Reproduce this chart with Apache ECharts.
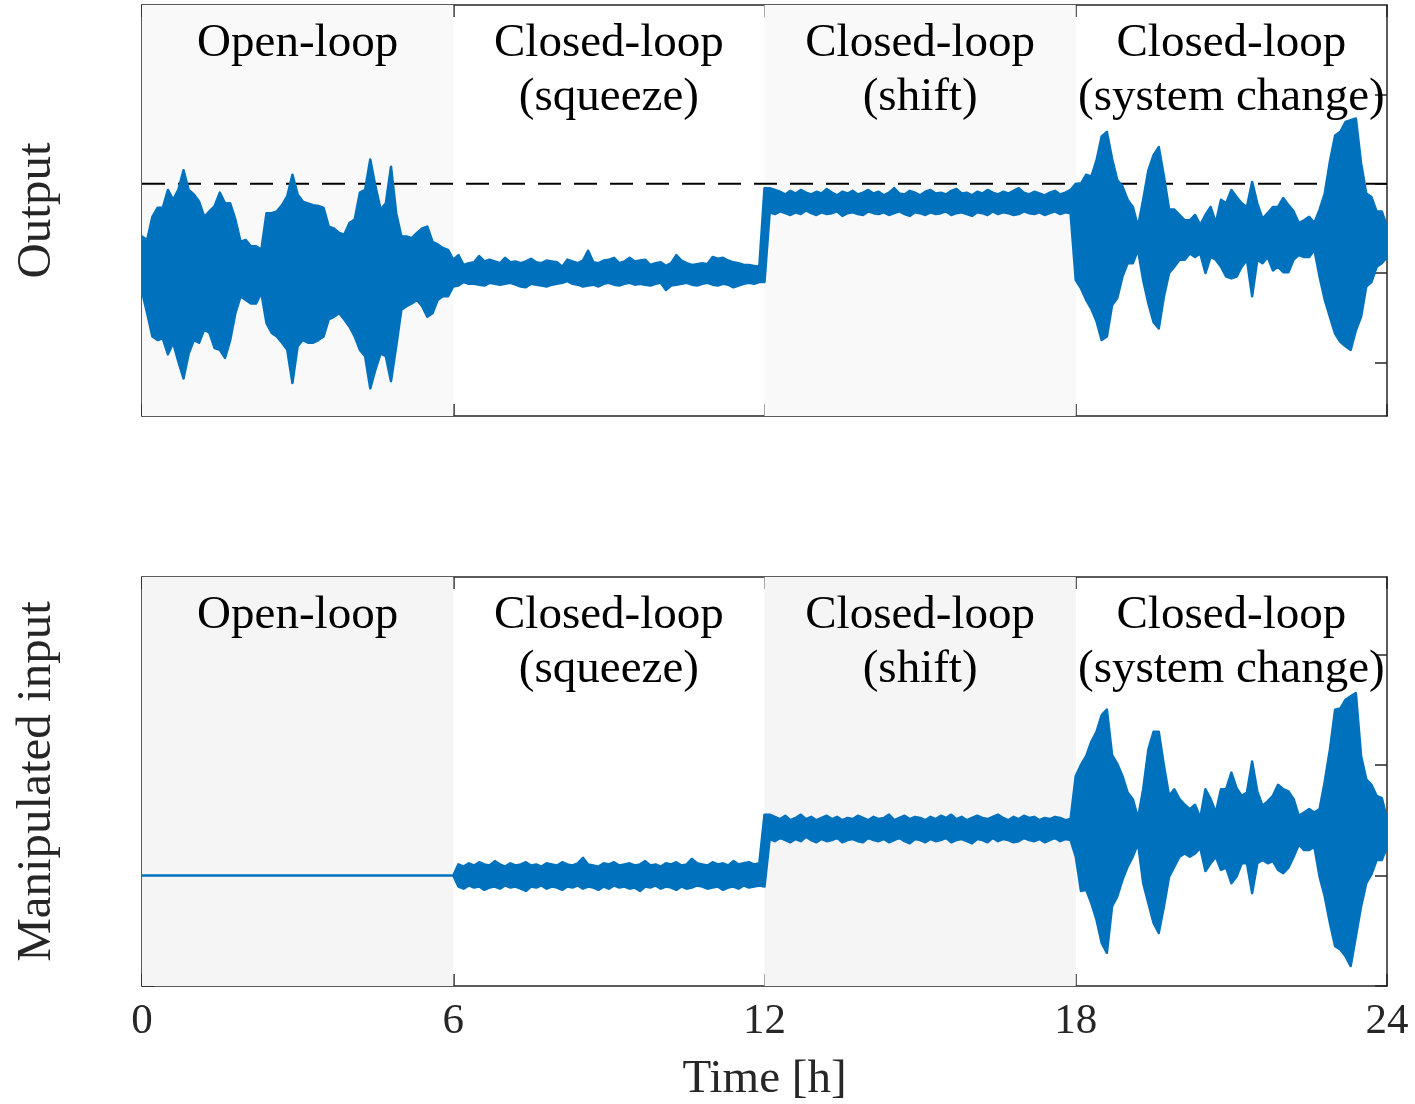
<!DOCTYPE html>
<html>
<head>
<meta charset="utf-8">
<script src="https://cdn.jsdelivr.net/npm/echarts@6/dist/echarts.min.js"></script>
<style>
html,body{margin:0;padding:0;background:#fff;}
#chart{width:1415px;height:1104px;}
</style>
</head>
<body>
<div id="chart"></div>
<script>
// ---------------- data ----------------
const sampleStepHours = 0.1;          // envelope sampled every 0.1 h
const hourTicks = [0, 6, 12, 18, 24];
const regionBounds = [0, 6, 12, 18, 24];
const regionNames = ['Open-loop', 'Closed-loop\n(squeeze)', 'Closed-loop\n(shift)', 'Closed-loop\n(system change)'];
const setpoint = 1;
const outputTicks = [-1, 0, 1, 2];
const inputTicks = [-1, 0, 1, 2];

// Output envelope (upper / lower), per regime
const outOpenHi = [0.41,0.37,0.63,0.73,0.73,0.93,0.82,0.93,1.15,0.93,
 0.88,0.80,0.63,0.69,0.75,0.90,0.78,0.78,0.60,0.35,
 0.37,0.30,0.30,0.26,0.67,0.67,0.69,0.76,0.86,1.10,
 0.88,0.80,0.78,0.76,0.75,0.73,0.52,0.50,0.45,0.43,
 0.56,0.60,0.90,0.93,1.27,0.97,0.71,0.78,1.19,0.67,
 0.41,0.41,0.39,0.45,0.50,0.52,0.35,0.32,0.28,0.26,
 0.15];
const outOpenLo = [-0.21,-0.45,-0.71,-0.75,-0.73,-0.91,-0.78,-0.99,-1.18,-0.90,
 -0.75,-0.78,-0.63,-0.67,-0.84,-0.86,-0.95,-0.75,-0.45,-0.26,
 -0.30,-0.34,-0.34,-0.22,-0.56,-0.67,-0.71,-0.78,-0.86,-1.23,
 -0.82,-0.75,-0.78,-0.78,-0.75,-0.71,-0.52,-0.49,-0.45,-0.52,
 -0.60,-0.71,-0.86,-0.93,-1.29,-1.08,-0.90,-0.93,-1.21,-0.82,
 -0.41,-0.37,-0.34,-0.30,-0.37,-0.49,-0.45,-0.30,-0.26,-0.26,
 -0.15];
const outSqueezeHi = [0.20,0.09,0.11,0.12,0.19,0.13,0.15,0.13,0.11,0.17,
 0.12,0.13,0.11,0.13,0.16,0.12,0.11,0.14,0.13,0.12,
 0.07,0.15,0.13,0.11,0.14,0.25,0.12,0.11,0.14,0.15,
 0.17,0.11,0.13,0.17,0.13,0.14,0.15,0.09,0.11,0.12,
 0.08,0.11,0.20,0.14,0.11,0.09,0.10,0.11,0.10,0.18,
 0.16,0.17,0.14,0.12,0.11,0.09,0.09,0.08,0.07,0.95];
const outSqueezeLo = [-0.14,-0.10,-0.12,-0.12,-0.13,-0.14,-0.11,-0.12,-0.13,-0.12,
 -0.11,-0.13,-0.15,-0.16,-0.12,-0.13,-0.14,-0.15,-0.13,-0.12,
 -0.11,-0.09,-0.12,-0.13,-0.15,-0.14,-0.13,-0.15,-0.12,-0.11,
 -0.13,-0.14,-0.12,-0.11,-0.13,-0.12,-0.13,-0.14,-0.12,-0.11,
 -0.19,-0.14,-0.13,-0.12,-0.11,-0.13,-0.14,-0.12,-0.11,-0.13,
 -0.14,-0.12,-0.13,-0.16,-0.14,-0.12,-0.11,-0.12,-0.10,-0.10];
const outShiftHi = [0.95,0.93,0.91,0.88,0.92,0.89,0.93,0.90,0.88,0.91,
 0.89,0.94,0.90,0.87,0.91,0.89,0.92,0.88,0.90,0.93,
 0.89,0.91,0.87,0.90,0.95,0.89,0.88,0.92,0.90,0.87,
 0.91,0.93,0.89,0.90,0.88,0.92,0.94,0.89,0.90,0.87,
 0.91,0.89,0.93,0.90,0.88,0.91,0.89,0.92,0.95,0.90,
 0.88,0.91,0.89,0.87,0.90,0.92,0.88,0.90,0.93];
const outShiftLo = [0.68,0.66,0.69,0.67,0.65,0.68,0.66,0.70,0.67,0.65,
 0.68,0.66,0.67,0.69,0.64,0.67,0.68,0.66,0.65,0.69,
 0.67,0.66,0.68,0.65,0.67,0.69,0.66,0.64,0.68,0.67,
 0.65,0.68,0.66,0.67,0.69,0.65,0.67,0.68,0.66,0.64,
 0.68,0.67,0.65,0.69,0.66,0.68,0.67,0.65,0.66,0.69,
 0.67,0.66,0.68,0.65,0.67,0.69,0.66,0.68,0.67];
const outChangeHi = [1.00,1.00,1.10,1.08,1.26,1.53,1.58,1.28,1.04,0.97,
 0.82,0.74,0.52,0.82,1.15,1.32,1.41,1.08,0.71,0.71,
 0.65,0.59,0.59,0.65,0.54,0.65,0.74,0.56,0.82,0.78,
 0.93,0.85,0.78,0.74,1.02,0.78,0.61,0.67,0.74,0.74,
 0.84,0.76,0.69,0.56,0.59,0.63,0.56,0.71,0.89,1.25,
 1.54,1.58,1.69,1.71,1.73,1.23,0.89,0.85,0.69,0.69,
 0.52];
const outChangeLo = [-0.08,-0.17,-0.30,-0.40,-0.54,-0.75,-0.71,-0.36,-0.28,-0.04,
 0.11,0.11,0.26,-0.08,-0.34,-0.55,-0.62,-0.26,0.00,0.07,
 0.15,0.15,0.22,0.18,0.22,0.00,0.18,0.15,0.07,-0.04,
 -0.06,-0.04,0.07,0.15,-0.26,0.15,0.11,0.18,0.03,0.07,
 0.01,0.01,0.15,0.20,0.18,0.18,0.26,-0.04,-0.30,-0.49,
 -0.68,-0.77,-0.82,-0.86,-0.64,-0.49,-0.15,-0.10,0.07,0.11,
 0.18];

// Manipulated input envelope (upper / lower), per regime
const inpOpenHi = [0,0,0,0,0,0,0,0,0,0, 0,0,0,0,0,0,0,0,0,0, 0,0,0,0,0,0,0,0,0,0,
 0,0,0,0,0,0,0,0,0,0, 0,0,0,0,0,0,0,0,0,0, 0,0,0,0,0,0,0,0,0,0, 0];
const inpOpenLo = [0,0,0,0,0,0,0,0,0,0, 0,0,0,0,0,0,0,0,0,0, 0,0,0,0,0,0,0,0,0,0,
 0,0,0,0,0,0,0,0,0,0, 0,0,0,0,0,0,0,0,0,0, 0,0,0,0,0,0,0,0,0,0, 0];
const inpSqueezeHi = [0.10,0.08,0.11,0.09,0.12,0.10,0.09,0.13,0.10,0.08,
 0.11,0.09,0.10,0.12,0.09,0.10,0.08,0.11,0.10,0.09,
 0.12,0.10,0.09,0.11,0.16,0.10,0.09,0.08,0.11,0.10,
 0.12,0.09,0.10,0.11,0.09,0.10,0.13,0.09,0.10,0.08,
 0.11,0.10,0.12,0.09,0.10,0.15,0.11,0.10,0.09,0.12,
 0.10,0.11,0.09,0.13,0.10,0.11,0.12,0.10,0.11,0.55];
const inpSqueezeLo = [-0.10,-0.12,-0.09,-0.11,-0.10,-0.13,-0.11,-0.10,-0.12,-0.09,
 -0.11,-0.10,-0.12,-0.14,-0.10,-0.11,-0.09,-0.12,-0.10,-0.11,
 -0.13,-0.10,-0.11,-0.09,-0.12,-0.10,-0.11,-0.13,-0.10,-0.12,
 -0.09,-0.11,-0.10,-0.12,-0.11,-0.14,-0.10,-0.11,-0.09,-0.12,
 -0.10,-0.11,-0.13,-0.10,-0.12,-0.11,-0.09,-0.10,-0.12,-0.11,
 -0.10,-0.13,-0.11,-0.10,-0.12,-0.09,-0.11,-0.10,-0.09,-0.10];
const inpShiftHi = [0.55,0.53,0.51,0.54,0.50,0.52,0.55,0.51,0.53,0.50,
 0.52,0.54,0.51,0.53,0.50,0.52,0.51,0.54,0.52,0.50,
 0.53,0.51,0.52,0.55,0.50,0.52,0.54,0.51,0.53,0.52,
 0.50,0.53,0.51,0.54,0.52,0.55,0.51,0.53,0.50,0.52,
 0.54,0.52,0.51,0.53,0.55,0.52,0.50,0.53,0.51,0.54,
 0.52,0.53,0.50,0.52,0.51,0.53,0.52,0.50,0.51];
const inpShiftLo = [0.33,0.31,0.34,0.32,0.30,0.33,0.31,0.35,0.32,0.30,
 0.33,0.31,0.32,0.34,0.30,0.32,0.33,0.31,0.30,0.34,
 0.32,0.31,0.33,0.30,0.32,0.34,0.31,0.29,0.33,0.32,
 0.30,0.33,0.31,0.32,0.34,0.30,0.32,0.33,0.31,0.29,
 0.33,0.32,0.30,0.34,0.31,0.33,0.32,0.30,0.31,0.34,
 0.32,0.31,0.33,0.30,0.32,0.34,0.31,0.33,0.32];
const inpChangeHi = [0.90,1.00,1.08,1.21,1.30,1.45,1.50,1.09,1.01,0.90,
 0.75,0.69,0.52,0.78,1.14,1.30,1.30,0.99,0.72,0.78,
 0.69,0.64,0.60,0.64,0.52,0.78,0.69,0.57,0.78,0.78,
 0.93,0.79,0.72,0.75,1.03,0.76,0.63,0.67,0.72,0.82,
 0.78,0.76,0.69,0.54,0.57,0.60,0.57,0.60,0.85,1.14,
 1.50,1.51,1.59,1.62,1.65,1.08,0.87,0.82,0.72,0.70,
 0.51];
const inpChangeLo = [0.17,-0.14,-0.13,-0.25,-0.40,-0.61,-0.70,-0.28,-0.19,-0.04,
 0.08,0.17,0.29,-0.07,-0.25,-0.43,-0.52,-0.28,-0.01,0.08,
 0.17,0.20,0.17,0.20,0.25,0.04,0.11,0.17,0.05,0.07,
 -0.07,-0.01,0.11,0.11,-0.16,0.11,0.14,0.11,0.13,0.05,
 0.02,0.07,0.17,0.28,0.23,0.23,0.26,-0.01,-0.19,-0.43,
 -0.64,-0.67,-0.73,-0.82,-0.55,-0.28,-0.07,0.01,0.14,0.14,
 0.26];

// ---------------- build ----------------
const BLUE = '#0072BD';
const AX = '#262626';
const FONT = '"Liberation Serif", "DejaVu Serif", serif';

const outHi = [].concat(outOpenHi, outSqueezeHi, outShiftHi, outChangeHi);
const outLo = [].concat(outOpenLo, outSqueezeLo, outShiftLo, outChangeLo);
const inpHi = [].concat(inpOpenHi, inpSqueezeHi, inpShiftHi, inpChangeHi);
const inpLo = [].concat(inpOpenLo, inpSqueezeLo, inpShiftLo, inpChangeLo);
const timeAt = k => +(k * sampleStepHours).toFixed(2);

function regionsMarkArea(shade) {
  const data = [];
  for (let i = 0; i < regionNames.length; i++) {
    data.push([
      { xAxis: regionBounds[i], name: regionNames[i],
        itemStyle: { color: i % 2 === 0 ? shade : 'rgba(0,0,0,0)' } },
      { xAxis: regionBounds[i + 1] }
    ]);
  }
  return {
    silent: true,
    z: 1,
    label: {
      show: true, position: 'insideTop', distance: 12,
      fontFamily: FONT, fontSize: 47, lineHeight: 54, color: '#000'
    },
    data: data
  };
}

// Envelope band: polygon through (t, hi) forward and (t, lo) backward, placed by the axes' scales
function bandSeries(hi, lo, xi, yi) {
  const pts = hi.map((v, k) => [timeAt(k), v, lo[k]]);
  return {
    type: 'custom', xAxisIndex: xi, yAxisIndex: yi, z: 3, clip: true,
    data: [[timeAt(0), hi[0]]],
    encode: { x: 0, y: 1 },
    renderItem: function (params, api) {
      const poly = [];
      for (let k = 0; k < pts.length; k++) poly.push(api.coord([pts[k][0], pts[k][1]]));
      for (let k = pts.length - 1; k >= 0; k--) poly.push(api.coord([pts[k][0], pts[k][2]]));
      return {
        type: 'polygon',
        shape: { points: poly },
        style: { fill: BLUE, stroke: BLUE, lineWidth: 2.5, lineJoin: 'round', lineCap: 'round' }
      };
    }
  };
}

function xAx(gridIndex, position, showLabels) {
  return {
    type: 'value', gridIndex, position, min: 0, max: 24, interval: 6,
    axisLine: { show: true, onZero: false, lineStyle: { color: AX, width: 1.5 } },
    axisTick: { show: true, inside: true, length: 12, lineStyle: { color: AX, width: 1.5 } },
    axisLabel: showLabels ? { show: true, margin: 14, fontFamily: FONT, fontSize: 43, color: AX } : { show: false },
    splitLine: { show: false },
    name: showLabels ? 'Time [h]' : '',
    nameLocation: 'middle', nameGap: 70,
    nameTextStyle: { fontFamily: FONT, fontSize: 47, color: AX }
  };
}

function yAx(gridIndex, position, min, max, ticks, name) {
  return {
    type: 'value', gridIndex, position, min, max,
    axisLine: { show: true, onZero: false, lineStyle: { color: AX, width: 1.5 } },
    axisTick: { show: true, inside: true, length: 12, customValues: ticks, lineStyle: { color: AX, width: 1.5 } },
    axisLabel: { show: false },
    splitLine: { show: false },
    name: name || '', nameLocation: 'middle', nameGap: 80, nameRotate: 90,
    nameTextStyle: { fontFamily: FONT, fontSize: 49, color: AX }
  };
}

const option = {
  animation: false,
  backgroundColor: '#ffffff',
  grid: [
    { left: 142, top: 5, width: 1245, height: 411 },
    { left: 142, top: 577, width: 1245, height: 410 }
  ],
  xAxis: [xAx(0, 'bottom', false), xAx(0, 'top', false), xAx(1, 'bottom', true), xAx(1, 'top', false)],
  yAxis: [
    yAx(0, 'left', -1.6, 3.0, outputTicks, 'Output'),
    yAx(0, 'right', -1.6, 3.0, outputTicks, ''),
    yAx(1, 'left', -1, 2.7, inputTicks, 'Manipulated input'),
    yAx(1, 'right', -1, 2.7, inputTicks, '')
  ],
  series: [
    {
      type: 'line', xAxisIndex: 0, yAxisIndex: 0, z: 2,
      data: [[regionBounds[0], setpoint], [regionBounds[4], setpoint]],
      showSymbol: false, symbol: 'none',
      lineStyle: { color: '#000', width: 2, type: [23, 13] },
      markArea: regionsMarkArea('#f9f9f9')
    },
    bandSeries(outHi, outLo, 0, 0),
    Object.assign(bandSeries(inpHi, inpLo, 2, 2), { markArea: regionsMarkArea('#f5f5f5') })
  ]
};

const chart = echarts.init(document.getElementById('chart'), null, { renderer: 'canvas' });
chart.setOption(option);
</script>
</body>
</html>
